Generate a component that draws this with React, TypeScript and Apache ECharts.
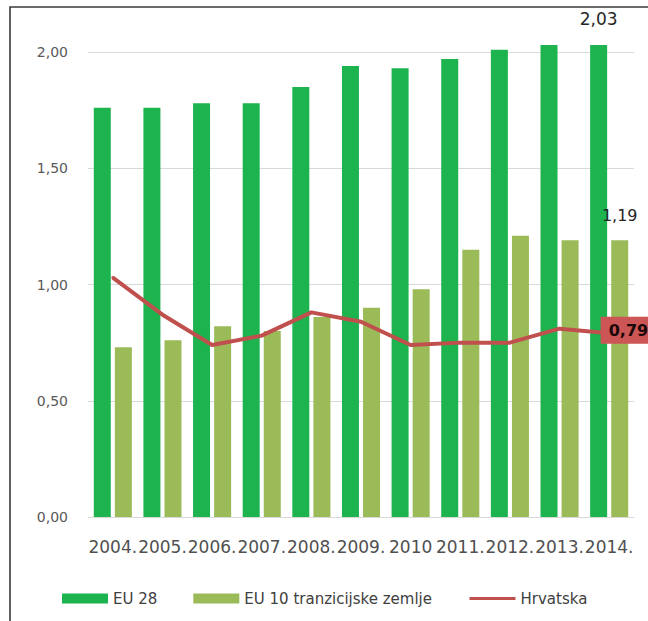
import React, { useEffect, useRef } from "react";
import * as echarts from "echarts";

const categories = ["2004.", "2005.", "2006.", "2007.", "2008.", "2009.", "2010", "2011.", "2012.", "2013.", "2014."];
const eu28 = [1.76, 1.76, 1.78, 1.78, 1.85, 1.94, 1.93, 1.97, 2.01, 2.03, 2.03];
const eu10 = [0.73, 0.76, 0.82, 0.80, 0.86, 0.90, 0.98, 1.15, 1.21, 1.19, 1.19];
const hrvatska = [1.03, 0.87, 0.74, 0.78, 0.88, 0.84, 0.74, 0.75, 0.75, 0.81, 0.79];
const yTicks = [0, 0.5, 1, 1.5, 2];

const FONT = "DejaVu Sans";
const fmt = (v: number) => v.toFixed(2).replace(".", ",");

export default function App() {
  const ref = useRef<HTMLDivElement>(null);
  useEffect(() => {
    if (!ref.current) return;
    const chart = echarts.init(ref.current, null, { renderer: "svg" });
    const last = categories.length - 1;
    chart.setOption({
      animation: false,
      backgroundColor: "#ffffff",
      textStyle: { fontFamily: FONT },
      graphic: [
        {
          type: "rect",
          shape: { x: 10, y: 7, width: 700, height: 700 },
          style: { fill: "none", stroke: "#3a3a3a", lineWidth: 1.6 },
          silent: true,
          z: 100,
        },
      ],
      grid: { left: 88, right: 14, top: 52, bottom: 104, containLabel: false },
      legend: {
        left: 57,
        top: 586,
        itemWidth: 46,
        itemHeight: 10,
        itemGap: 36,
        textStyle: { fontFamily: FONT, fontSize: 15, color: "#404040" },
        data: [
          { name: "EU 28", icon: "rect" },
          { name: "EU 10 tranzicijske zemlje", icon: "rect" },
          { name: "Hrvatska", itemStyle: { opacity: 0 }, lineStyle: { width: 3 } },
        ],
      },
      xAxis: {
        type: "category",
        data: categories,
        axisLine: { show: true, lineStyle: { color: "#d9d9d9", width: 1 } },
        axisTick: { show: false },
        axisLabel: {
          interval: 0,
          fontFamily: FONT,
          fontSize: 17,
          color: "#505050",
          margin: 21,
        },
      },
      yAxis: {
        type: "value",
        min: 0,
        max: 2,
        interval: 0.5,
        axisLine: { show: false },
        axisTick: { show: false },
        splitLine: { lineStyle: { color: "#d9d9d9", width: 1 } },
        axisLabel: {
          fontFamily: FONT,
          fontSize: 14,
          color: "#595959",
          margin: 20,
          formatter: (v: number) => (yTicks.includes(v) ? fmt(v) : ""),
        },
      },
      series: [
        {
          name: "EU 28",
          type: "bar",
          clip: false,
          barWidth: 17,
          barGap: "24%",
          itemStyle: { color: "#1db34e" },
          data: eu28.map((v, i) =>
            i === last
              ? {
                  value: v,
                  label: {
                    show: true,
                    position: "top",
                    distance: 18,
                    formatter: fmt(v),
                    fontFamily: FONT,
                    fontSize: 17,
                    color: "#262626",
                  },
                }
              : v
          ),
        },
        {
          name: "EU 10 tranzicijske zemlje",
          type: "bar",
          clip: false,
          barWidth: 17,
          itemStyle: { color: "#9bbb59" },
          data: eu10.map((v, i) =>
            i === last
              ? {
                  value: v,
                  label: {
                    show: true,
                    position: "top",
                    distance: 17,
                    formatter: fmt(v),
                    fontFamily: FONT,
                    fontSize: 16,
                    color: "#262626",
                  },
                }
              : v
          ),
        },
        {
          name: "Hrvatska",
          type: "line",
          symbol: "circle",
          symbolSize: 3,
          showSymbol: true,
          itemStyle: { color: "#c0504d" },
          lineStyle: { color: "#c0504d", width: 4 },
          z: 5,
          data: hrvatska.map((v, i) =>
            i === last
              ? {
                  value: v,
                  label: {
                    show: true,
                    position: "right",
                    distance: -10,
                    offset: [0, -3],
                    formatter: fmt(v),
                    fontFamily: FONT,
                    fontSize: 16,
                    fontWeight: "bold",
                    color: "#1a0808",
                    backgroundColor: "#cc5555",
                    padding: [6, 6, 5, 8],
                  },
                }
              : v
          ),
        },
      ],
    });
    return () => chart.dispose();
  }, []);
  return (
    <div
      ref={ref}
      style={{ position: "fixed", left: 0, top: 0, width: 648, height: 621 }}
    />
  );
}
